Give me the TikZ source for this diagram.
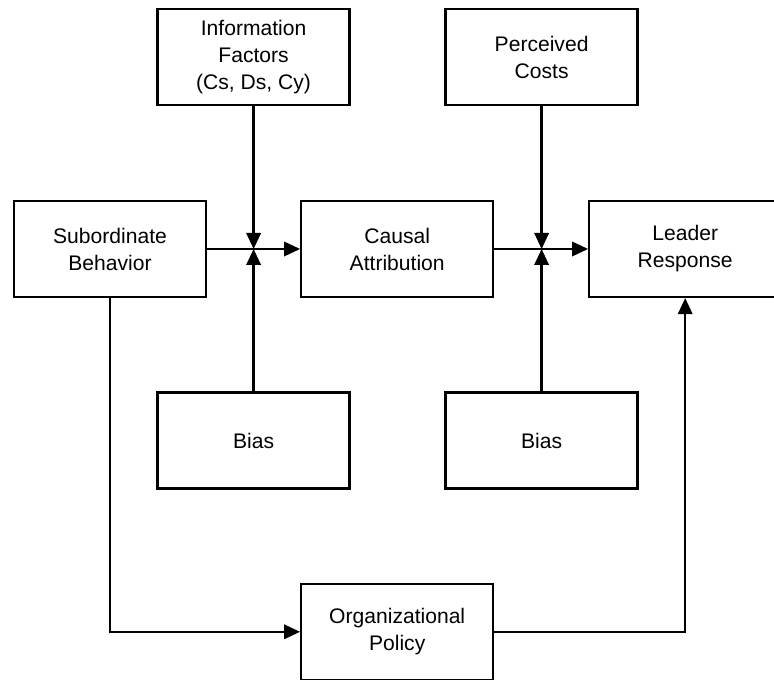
\documentclass[tikz,border=0pt]{standalone}
\usepackage{fontspec}
\setmainfont{Liberation Sans}
\usetikzlibrary{arrows.meta, positioning, calc}

\begin{document}
\begin{tikzpicture}[
  box/.style={draw, line width=1.6pt, minimum width=4.8cm, minimum height=2.4cm, inner sep=0pt, align=center, font=\fontsize{15}{19.2}\selectfont},
  arr/.style={line width=1.6pt, -{Triangle[length=0.4cm, width=0.36cm]}}
]
\useasboundingbox (0,0) rectangle (19.35,16.975);

% Moderators on top
\node[box] (info) at (6.34,15.55) {Information\\Factors\\(Cs, Ds, Cy)};
\node[box] (costs) at (13.54,15.55) {Perceived\\Costs};

% Main chain
\node[box] (sub) at (2.75,10.75) {Subordinate\\Behavior};
\node[box] (causal) at (9.93,10.75) {Causal\\Attribution};
\node[box] (leader) at (17.13,10.75) {Leader\\Response};

% Biases below
\node[box] (biasL) at (6.34,5.96) {Bias};
\node[box] (biasR) at (13.54,5.96) {Bias};

% Policy
\node[box] (policy) at (9.93,1.18) {Organizational\\Policy};

% Junctions on the chain
\coordinate (jL) at (info.south |- sub.east);
\coordinate (jR) at (costs.south |- causal.east);

\draw[arr] (sub.east) -- (causal.west);
\draw[arr] (causal.east) -- (leader.west);
\draw[arr] (info.south) -- (jL);
\draw[arr] (biasL.north) -- (jL);
\draw[arr] (costs.south) -- (jR);
\draw[arr] (biasR.north) -- (jR);

% Loop through policy
\draw[arr] (sub.south) |- (policy.west);
\draw[arr] (policy.east) -| (leader.south);
\end{tikzpicture}
\end{document}
